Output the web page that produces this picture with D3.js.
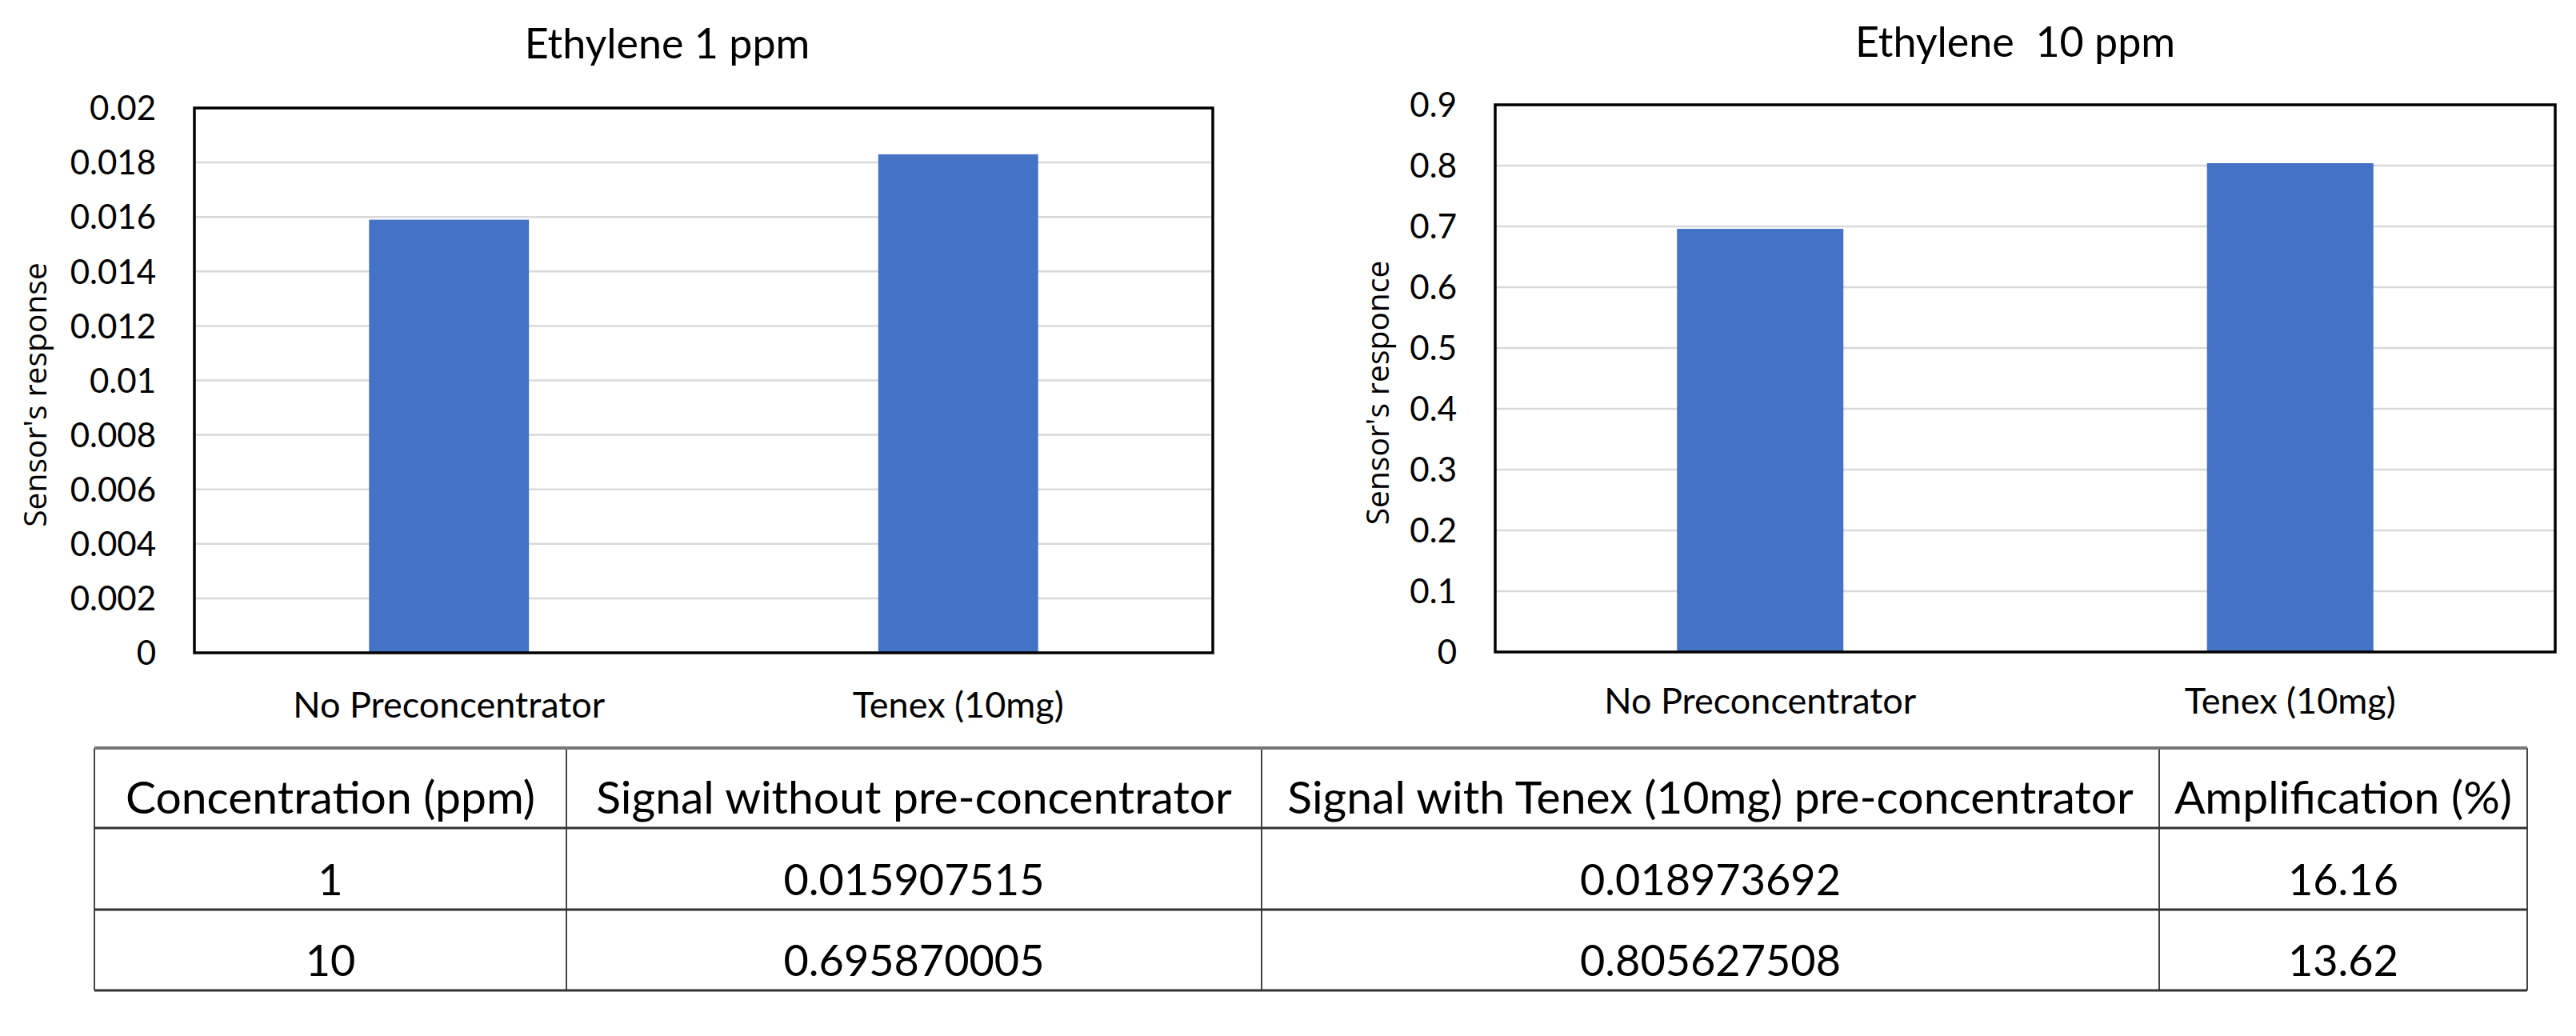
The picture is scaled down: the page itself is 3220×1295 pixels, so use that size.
<!DOCTYPE html>
<html>
<head>
<meta charset="utf-8">
<script src="https://cdn.jsdelivr.net/npm/d3@7"></script>
<style>
  body { margin: 0; background: #fff; }
  text { font-family: Lato, "Open Sans", sans-serif; fill: #000; }
</style>
</head>
<body>
<div id="chart"></div>
<script>
// data
const categories = ["No Preconcentrator", "Tenex (10mg)"];
const response1ppm = [0.0159, 0.0183];
const response10ppm = [0.696, 0.804];
const ticks1ppm = [0, 0.002, 0.004, 0.006, 0.008, 0.01, 0.012, 0.014, 0.016, 0.018, 0.02];
const ticks10ppm = [0, 0.1, 0.2, 0.3, 0.4, 0.5, 0.6, 0.7, 0.8, 0.9];

const tableHeader = ["Concentration (ppm)", "Signal without pre-concentrator", "Signal with Tenex (10mg) pre-concentrator", "Amplification (%)"];
const tableRows = [
  ["1", "0.015907515", "0.018973692", "16.16"],
  ["10", "0.695870005", "0.805627508", "13.62"],
];

const W = 3220, H = 1295;
const svg = d3.select("#chart").append("svg")
  .attr("width", W)
  .attr("height", H);

const barColor = "#4472C4";

function drawChart(opts) {
  const { left, right, top, bottom, values, ticks, max, title, titleX, titleY, yLabel, yLabelX, labelDy } = opts;

  const x = d3.scaleBand()
    .domain(categories)
    .range([left, right])
    .paddingInner(0.686)
    .paddingOuter(0.343);

  const y = d3.scaleLinear()
    .domain([0, max])
    .range([bottom, top]);

  const g = svg.append("g");

  // gridlines
  g.selectAll(".grid")
    .data(ticks.slice(1, -1))
    .enter()
    .append("line")
    .attr("x1", left)
    .attr("x2", right)
    .attr("y1", (d) => y(d))
    .attr("y2", (d) => y(d))
    .style("stroke", "#d9d9d9")
    .style("stroke-width", 2.5);

  // bars
  g.selectAll(".bar")
    .data(values)
    .enter()
    .append("rect")
    .attr("x", (d, i) => x(categories[i]))
    .attr("y", (d) => y(d))
    .attr("width", x.bandwidth())
    .attr("height", (d) => y(0) - y(d))
    .style("fill", barColor);

  // frame
  g.append("rect")
    .attr("x", left)
    .attr("y", top)
    .attr("width", right - left)
    .attr("height", bottom - top)
    .style("fill", "none")
    .style("stroke", "#000")
    .style("stroke-width", 3.5);

  // y axis labels
  const yAxis = d3.axisLeft(y)
    .tickValues(ticks)
    .tickFormat(d3.format("~g"))
    .tickSize(0)
    .tickPadding(48);

  g.append("g")
    .attr("transform", `translate(${left},0)`)
    .call(yAxis)
    .call((a) => a.select(".domain").remove())
    .selectAll("text")
    .attr("dy", "0.35em")
    .style("font-size", "42px")
    .style("font-family", "Lato, sans-serif");

  // x axis labels
  const xAxis = d3.axisBottom(x).tickSize(0).tickPadding(labelDy);
  g.append("g")
    .attr("transform", `translate(0,${bottom})`)
    .call(xAxis)
    .call((a) => a.select(".domain").remove())
    .selectAll("text")
    .attr("dy", 0)
    .style("font-size", "45px")
    .style("font-family", "Lato, sans-serif");

  // title
  g.append("text")
    .attr("x", titleX)
    .attr("y", titleY)
    .style("text-anchor", "middle")
    .style("font-size", "52px")
    .style("white-space", "pre")
    .text(title);

  // y axis title
  g.append("text")
    .attr("transform", `translate(${yLabelX},${(top + bottom) / 2 + 18}) rotate(-90)`)
    .style("text-anchor", "middle")
    .style("font-family", "'Open Sans', sans-serif")
    .style("font-size", "39px")
    .text(yLabel);
}

drawChart({
  left: 243, right: 1516, top: 135, bottom: 816,
  values: response1ppm, ticks: ticks1ppm, max: 0.02,
  title: "Ethylene 1 ppm", titleX: 834, titleY: 73,
  yLabel: "Sensor's response", yLabelX: 58, labelDy: 81,
});

drawChart({
  left: 1869, right: 3194, top: 131, bottom: 815,
  values: response10ppm, ticks: ticks10ppm, max: 0.9,
  title: "Ethylene  10 ppm", titleX: 2519, titleY: 71,
  yLabel: "Sensor's responce", yLabelX: 1736, labelDy: 77,
});

// table
const colEdges = [118, 708, 1577, 2699, 3159];
const rowEdges = [935, 1035, 1137, 1238];
const table = svg.append("g");
const allRows = [tableHeader, ...tableRows];

table.selectAll(".vline")
  .data(colEdges)
  .enter()
  .append("line")
  .attr("x1", (d) => d)
  .attr("x2", (d) => d)
  .attr("y1", rowEdges[0])
  .attr("y2", rowEdges[rowEdges.length - 1])
  .style("stroke", "#444")
  .style("stroke-width", 2);

table.selectAll(".hline")
  .data(rowEdges)
  .enter()
  .append("line")
  .attr("x1", colEdges[0])
  .attr("x2", colEdges[colEdges.length - 1])
  .attr("y1", (d) => d)
  .attr("y2", (d) => d)
  .style("stroke", (d, i) => (i === 0 ? "#777" : "#333"))
  .style("stroke-width", (d, i) => (i === 0 ? 4 : 3));

allRows.forEach((row, r) => {
  table.selectAll(`.cell-${r}`)
    .data(row)
    .enter()
    .append("text")
    .attr("x", (d, c) => (colEdges[c] + colEdges[c + 1]) / 2)
    .attr("y", rowEdges[r + 1] - 18)
    .style("text-anchor", "middle")
    .style("font-size", r === 0 ? "57px" : "54px")
    .text((d) => d);
});
</script>
</body>
</html>
